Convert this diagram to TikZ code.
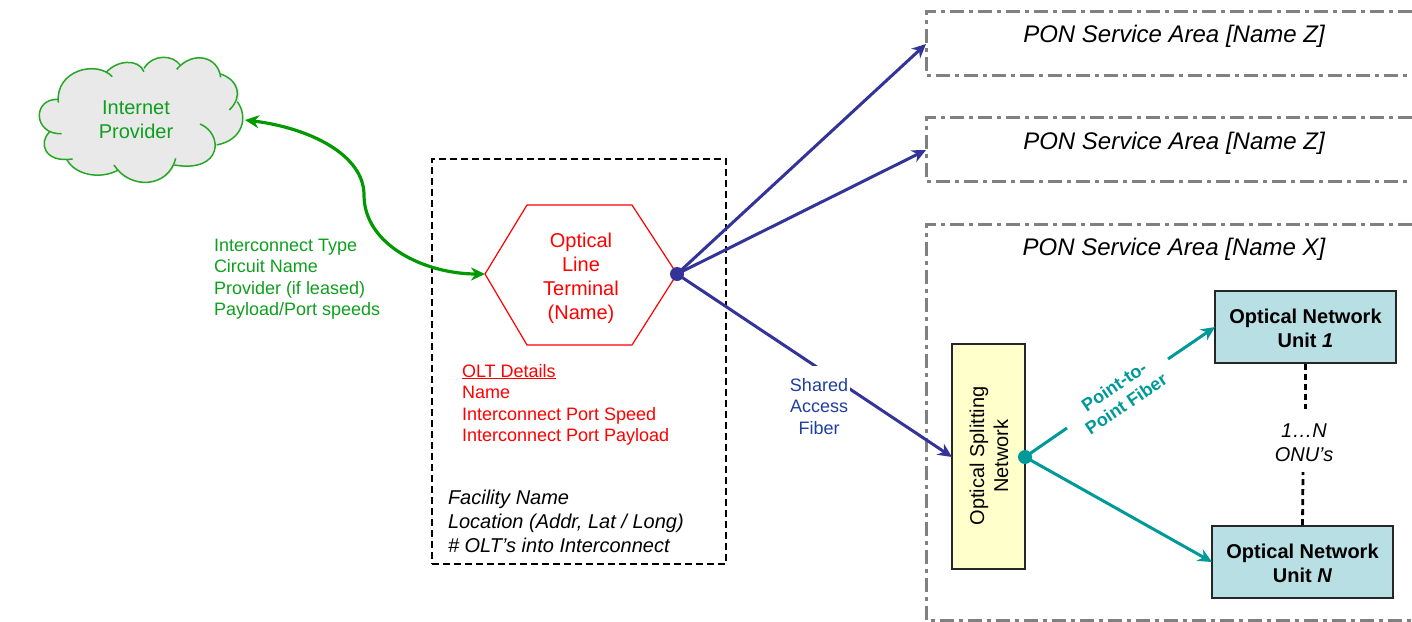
\documentclass[tikz,border=0pt]{standalone}
\usepackage{fontspec}
\setmainfont{Liberation Sans}
\usetikzlibrary{arrows.meta}
\definecolor{pgreen}{HTML}{0F9F1F}
\definecolor{lgreen}{HTML}{009900}
\definecolor{pnavy}{HTML}{333399}
\definecolor{pblue}{HTML}{1F3F9F}
\definecolor{pteal}{HTML}{009999}
\definecolor{pgrey}{HTML}{808080}
\definecolor{pyellow}{HTML}{FFFFCC}
\definecolor{pcyan}{HTML}{B8DFE3}
\definecolor{cloudfill}{HTML}{E9E9E9}
\newcommand{\fa}{\fontsize{18}{21.5}\selectfont}
\newcommand{\fb}{\fontsize{20}{24}\selectfont}
\newcommand{\fc}{\fontsize{24}{28}\selectfont}
\tikzset{
  x=1pt,y=-1pt,
  headtip/.tip={Stealth[length=14pt,width=13pt,inset=4.5pt]},
  tip/.style={-headtip},
  txt/.style={inner sep=0pt,outer sep=0pt,align=#1},
  txt/.default=center,
  servicebox/.style={draw=pgrey,line width=3pt,dash pattern=on 14pt off 5pt on 4pt off 5pt},
  fibre/.style={draw=pnavy,line width=3pt,tip},
  tealfibre/.style={draw=pteal,line width=3pt,tip},
  tealplain/.style={draw=pteal,line width=3pt},
  unitbox/.style={draw=black!85,line width=1.8pt,fill=pcyan,minimum width=181pt,minimum height=72pt,inner sep=0pt},
  unittext/.style={inner sep=0pt,outer sep=0pt,align=center,font=\fb\bfseries},
  portdot/.style={circle,inner sep=0pt,minimum size=14pt},
  countdash/.style={draw=black,line width=2.8pt,dash pattern=on 6pt off 4pt},
  lobe/.style={draw=lgreen!85!white,line width=1.5pt}
}
\begin{document}
\begin{tikzpicture}
\useasboundingbox (0,0) rectangle (1412,621);
% --- cloud (points given in reference pixels)
\begin{scope}[shift={(0,30)},x=0.3333pt,y=-0.3333pt]
\fill[cloudfill] (175,218) .. controls (165,120) and (290,90) .. (322,130)
  .. controls (350,90) and (415,85) .. (432,115)
  .. controls (460,70) and (520,75) .. (535,108)
  .. controls (580,60) and (655,80) .. (662,132)
  .. controls (715,150) and (730,190) .. (712,218)
  .. controls (745,260) and (730,330) .. (650,345)
  .. controls (640,395) and (570,425) .. (525,405)
  .. controls (505,465) and (390,480) .. (348,420)
  .. controls (300,450) and (225,435) .. (200,388)
  .. controls (130,395) and (115,335) .. (150,307)
  .. controls (100,290) and (110,205) .. (175,208) -- cycle;
\draw[lobe] (175,218) .. controls (165,120) and (290,90) .. (337,140);
\draw[lobe] (318,128) .. controls (350,90) and (415,85) .. (432,125);
\draw[lobe] (432,115) .. controls (460,70) and (520,75) .. (540,105);
\draw[lobe] (530,118) .. controls (580,60) and (655,80) .. (662,142);
\draw[lobe] (662,132) .. controls (715,150) and (730,200) .. (688,240);
\draw[lobe] (712,215) .. controls (745,260) and (730,330) .. (650,345);
\draw[lobe] (600,282) .. controls (670,310) and (670,430) .. (523,405);
\draw[lobe] (527,385) .. controls (505,475) and (390,480) .. (342,405);
\draw[lobe] (355,420) .. controls (300,450) and (225,435) .. (200,388);
\draw[lobe] (218,387) .. controls (130,400) and (115,335) .. (150,305);
\draw[lobe] (185,311) .. controls (100,315) and (95,205) .. (175,208);
\end{scope}
\node[txt,text=pgreen,font=\fb] (cloudlabel) at (136,120) {Internet\\Provider};
\coordinate (cloudport) at (245,120);
% --- facility box
\node[draw=black,line width=2.9pt,dash pattern=on 7pt off 4pt,minimum width=294pt,minimum height=405pt,inner sep=0pt] (facility) at (579,361.5) {};
% --- OLT
\coordinate (h1) at (485,274);
\coordinate (h2) at (527,205);
\coordinate (h3) at (632,205);
\coordinate (h4) at (677,274);
\coordinate (h5) at (632,345);
\coordinate (h6) at (527,345);
\draw[red,line width=1.2pt] (h1)--(h2)--(h3)--(h4)--(h5)--(h6)--cycle;
\node[txt,text=red,font=\fb] (olt) at (581,278) {Optical\\Line\\Terminal\\(Name)};
\node[txt=left,text=red,font=\fa,anchor=north west] (oltdetails) at (462,364) {\underline{OLT Details}\\Name\\Interconnect Port Speed\\Interconnect Port Payload};
\node[txt=left,font=\fb\itshape,anchor=north west] (facilitytext) at (448,490) {Facility Name\\Location (Addr, Lat / Long)\\\# OLT’s into Interconnect};
% --- interconnect
\draw[draw=lgreen,line width=3.2pt,headtip-headtip]
  (cloudport) .. controls (310,128) and (364,155) .. (364,195)
  .. controls (364,245) and (425,274) .. (h1);
\node[txt=left,text=pgreen,font=\fa,anchor=north west] (interconnect) at (214,239) {Interconnect Type\\Circuit Name\\Provider (if leased)\\Payload/Port speeds};
% --- service areas
\coordinate (z1a) at (1412,11); \coordinate (z1b) at (926,11); \coordinate (z1c) at (926,75); \coordinate (z1d) at (1412,75);
\coordinate (z2a) at (1412,117); \coordinate (z2b) at (926,117); \coordinate (z2c) at (926,181); \coordinate (z2d) at (1412,181);
\coordinate (xa) at (1412,224); \coordinate (xb) at (926,224); \coordinate (xc) at (926,620); \coordinate (xd) at (1412,620);
\draw[servicebox] (z1a)--(z1b)--(z1c)--(z1d);
\draw[servicebox] (z2a)--(z2b)--(z2c)--(z2d);
\draw[servicebox] (xa)--(xb)--(xc)--(xd);
\node[txt,font=\fc\itshape] (t1) at (1174,36) {PON Service Area [Name Z]};
\node[txt,font=\fc\itshape] (t2) at (1174,143) {PON Service Area [Name Z]};
\node[txt,font=\fc\itshape] (t3) at (1174,249) {PON Service Area [Name X]};
\coordinate (z1in) at (926,44);
\coordinate (z2in) at (926,150);
% --- splitter
\node[draw=black!85,line width=1.8pt,fill=pyellow,minimum width=73pt,minimum height=225pt,inner sep=0pt] (splitter) at (988.5,456.5) {};
\node[txt,font=\fb,rotate=90] (splittertext) at (989,456) {Optical Splitting\\Network};
\coordinate (splitin) at (952,457);
% --- navy fibres
\node[portdot,fill=pnavy] (oltport) at (677,274) {};
\draw[fibre] (oltport.center) -- (z1in);
\draw[fibre] (oltport.center) -- (z2in);
\draw[fibre] (oltport.center) -- (splitin);
\node[fill=white,inner sep=0pt,minimum width=64pt,minimum height=74pt] (sharedbg) at (818,403) {};
\node[txt,text=pblue,font=\fa] (shared) at (819,406.5) {Shared\\Access\\Fiber};
% --- ONUs
\node[unitbox] (onu1) at (1305.5,327) {};
\node[unitbox] (onun) at (1302.5,562) {};
\node[unittext] (onu1text) at (1305.5,328) {Optical Network\\Unit \textit{1}};
\node[unittext] (onuntext) at (1302.5,563) {Optical Network\\Unit \textit{N}};
\node[txt,font=\fb\itshape] (count) at (1304,443) {1…N\\ONU’s};
\coordinate (c1) at (1305.5,409);
\coordinate (c2) at (1303,472);
\draw[countdash] (onu1.south) -- (c1);
\draw[countdash] (onun.north) -- (c2);
% --- teal fibres
\node[portdot,fill=pteal] (splitport) at (1025,457) {};
\coordinate (gap1) at (1067,428);
\coordinate (gap2) at (1168,359);
\coordinate (onu1in) at (1215,327);
\coordinate (onunin) at (1212,562);
\draw[tealplain] (splitport.center) -- (gap1);
\draw[tealfibre] (gap2) -- (onu1in);
\draw[tealfibre] (splitport.center) -- (onunin);
\node[txt,text=pteal,font=\fa\bfseries,rotate=34] (p2p) at (1120,395) {Point-to-\\Point Fiber};
\end{tikzpicture}
\end{document}
